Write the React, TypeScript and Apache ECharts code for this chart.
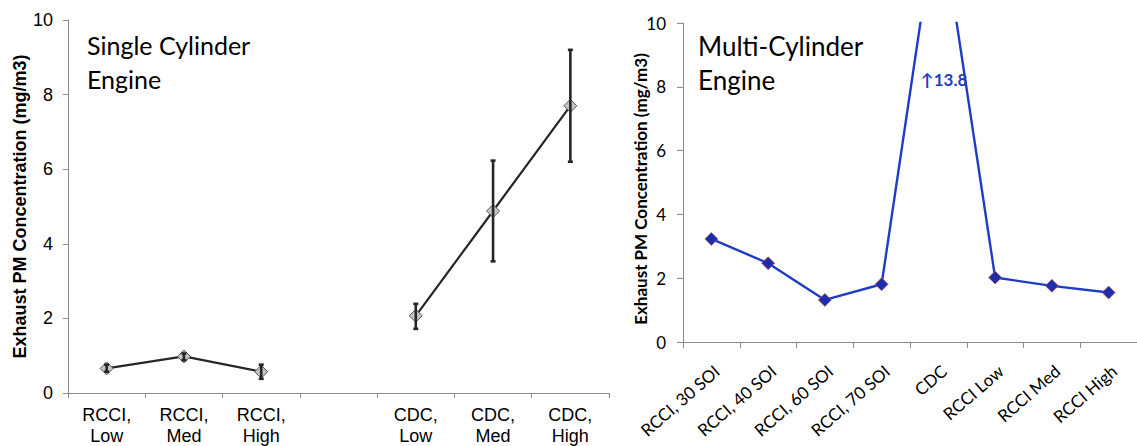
import React, { useEffect, useRef } from "react";
import * as echarts from "echarts";

// Single-cylinder engine: PM concentration with min/max error bars
const leftCategories = ["RCCI,\nLow", "RCCI,\nMed", "RCCI,\nHigh", "", "CDC,\nLow", "CDC,\nMed", "CDC,\nHigh"];
const leftMeans: (number | null)[] = [0.66, 0.98, 0.57, null, 2.07, 4.88, 7.7];
const leftLow: (number | null)[] = [0.57, 0.88, 0.38, null, 1.72, 3.53, 6.2];
const leftHigh: (number | null)[] = [0.76, 1.06, 0.76, null, 2.39, 6.23, 9.2];

// Multi-cylinder engine: PM concentration per operating point
const rightCategories = ["RCCI, 30 SOI", "RCCI, 40 SOI", "RCCI, 60 SOI", "RCCI, 70 SOI", "CDC", "RCCI Low", "RCCI Med", "RCCI High"];
const rightValues = [3.23, 2.47, 1.32, 1.81, 13.8, 2.02, 1.76, 1.55];

const yTicks = { min: 0, max: 10, interval: 2 };
const yName = "Exhaust PM Concentration (mg/m3)";

const ARIAL = "'Liberation Sans', Arial, sans-serif";
const CALIBRI = "Lato, 'Open Sans', sans-serif";
const AXIS_GREY = "#8a8a8a";

export default function App() {
  const ref = useRef<HTMLDivElement>(null);

  useEffect(() => {
    if (!ref.current) return;
    const chart = echarts.init(ref.current, null, { renderer: "svg" });

    const errData = leftMeans
      .map((m, i) => (m == null ? null : [i, leftLow[i], leftHigh[i]]))
      .filter((d) => d != null);

    const cdcIndex = rightCategories.indexOf("CDC");

    chart.setOption({
      animation: false,
      backgroundColor: "#ffffff",
      grid: [
        { left: 68, top: 20, width: 541, height: 377 },
        { left: 683, top: 23, width: 463, height: 319 },
      ],
      xAxis: [
        {
          gridIndex: 0,
          type: "category",
          data: leftCategories,
          boundaryGap: true,
          axisLine: { lineStyle: { color: AXIS_GREY, width: 1 } },
          axisTick: { show: true, length: 5, lineStyle: { color: AXIS_GREY } },
          axisLabel: {
            interval: 0,
            fontFamily: ARIAL,
            fontSize: 18,
            lineHeight: 21,
            color: "#000",
            margin: 11,
          },
        },
        {
          gridIndex: 1,
          type: "category",
          data: rightCategories,
          boundaryGap: true,
          axisLine: { lineStyle: { color: AXIS_GREY, width: 1 } },
          axisTick: { show: true, length: 6, lineStyle: { color: AXIS_GREY } },
          axisLabel: {
            interval: 0,
            rotate: 41,
            verticalAlign: "top",
            fontFamily: CALIBRI,
            fontSize: 17,
            color: "#000",
            margin: 20,
          },
        },
      ],
      yAxis: [
        {
          gridIndex: 0,
          type: "value",
          ...yTicks,
          splitLine: { show: false },
          axisLine: { show: true, lineStyle: { color: AXIS_GREY, width: 1 } },
          axisTick: { show: true, inside: false, length: 5, lineStyle: { color: AXIS_GREY } },
          axisLabel: { fontFamily: ARIAL, fontSize: 18, color: "#000", margin: 15 },
          name: yName,
          nameLocation: "middle",
          nameGap: 39,
          nameTextStyle: { fontFamily: ARIAL, fontWeight: "bold", fontSize: 18, color: "#000" },
        },
        {
          gridIndex: 1,
          type: "value",
          ...yTicks,
          splitLine: { show: false },
          axisLine: { show: true, lineStyle: { color: AXIS_GREY, width: 1 } },
          axisTick: { show: true, inside: false, length: 6, lineStyle: { color: AXIS_GREY } },
          axisLabel: { fontFamily: CALIBRI, fontSize: 17, color: "#000", margin: 17 },
        },
      ],
      graphic: [
        {
          type: "text",
          x: 640,
          y: 189,
          rotation: Math.PI / 2,
          style: {
            text: yName,
            fontFamily: CALIBRI,
            fontWeight: "bold",
            fontSize: 17,
            fill: "#000",
            align: "center",
            verticalAlign: "middle",
          },
        },
        {
          type: "text",
          left: 87,
          top: 28,
          style: {
            text: "Single Cylinder\nEngine",
            fontFamily: CALIBRI,
            fontSize: 25,
            lineHeight: 34,
            fill: "#000",
          },
        },
        {
          type: "text",
          left: 698,
          top: 29,
          style: {
            text: "Multi-Cylinder\nEngine",
            fontFamily: CALIBRI,
            fontSize: 26,
            lineHeight: 34,
            fill: "#000",
          },
        },
        {
          type: "text",
          left: 921,
          top: 71,
          style: {
            text: `↑${rightValues[cdcIndex]}`,
            fontFamily: CALIBRI,
            fontWeight: "bold",
            fontSize: 17,
            fill: "#1f3fbf",
          },
        },
      ],
      series: [
        {
          type: "line",
          xAxisIndex: 0,
          yAxisIndex: 0,
          data: leftMeans,
          connectNulls: false,
          symbol: "diamond",
          symbolSize: 13,
          lineStyle: { color: "#262626", width: 2.2 },
          itemStyle: { color: "#c4c4c4", borderColor: "#555555", borderWidth: 1 },
          z: 2,
        },
        {
          type: "custom",
          xAxisIndex: 0,
          yAxisIndex: 0,
          data: errData,
          encode: { x: 0, y: [1, 2] },
          z: 3,
          renderItem: (params: any, api: any) => {
            const x = api.value(0);
            const lo = api.coord([x, api.value(1)]);
            const hi = api.coord([x, api.value(2)]);
            const cap = 2.5;
            const style = { stroke: "#262626", lineWidth: 2.6 };
            return {
              type: "group",
              children: [
                { type: "line", shape: { x1: lo[0], y1: lo[1], x2: hi[0], y2: hi[1] }, style },
                { type: "line", shape: { x1: lo[0] - cap, y1: lo[1], x2: lo[0] + cap, y2: lo[1] }, style },
                { type: "line", shape: { x1: hi[0] - cap, y1: hi[1], x2: hi[0] + cap, y2: hi[1] }, style },
              ],
            };
          },
        },
        {
          type: "line",
          xAxisIndex: 1,
          yAxisIndex: 1,
          data: rightValues,
          clip: true,
          symbol: "diamond",
          symbolSize: 13,
          lineStyle: { color: "#1f3cc6", width: 2.4 },
          itemStyle: { color: "#1a2eac", borderColor: "#c85050", borderWidth: 0.7 },
        },
      ],
    });

    return () => chart.dispose();
  }, []);

  return (
    <div
      ref={ref}
      style={{ position: "fixed", left: 0, top: 0, width: 1137, height: 446, background: "#fff" }}
    />
  );
}
